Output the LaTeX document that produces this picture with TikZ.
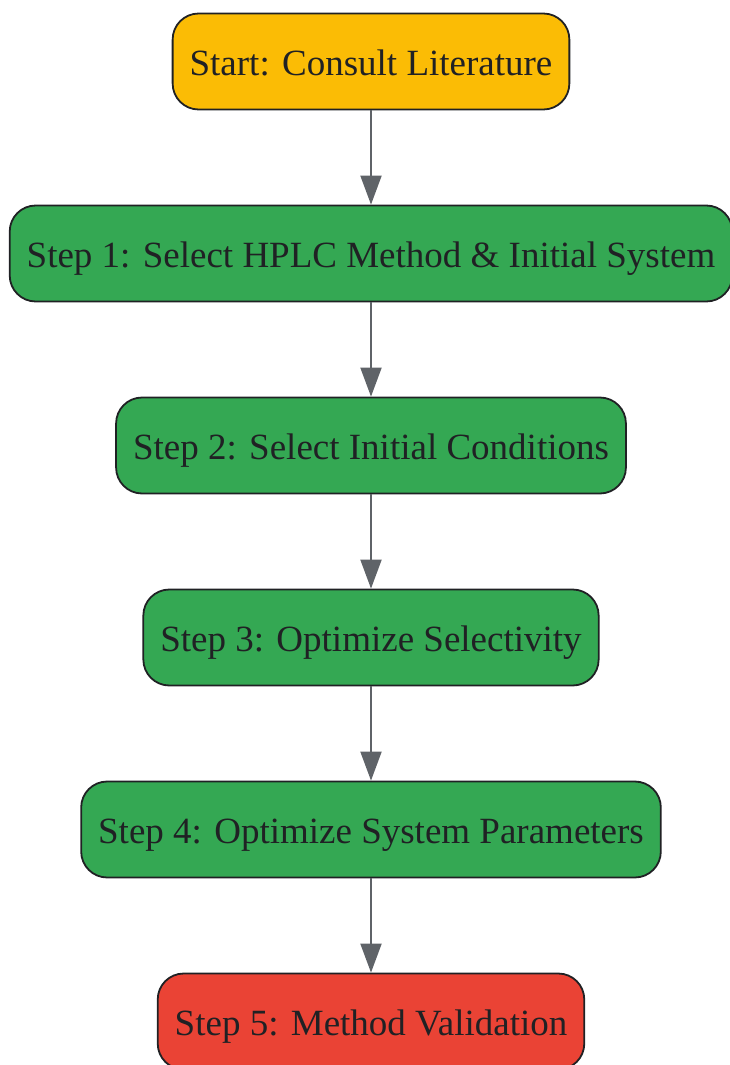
\documentclass[tikz,border=0pt]{standalone}
\usepackage{fontspec}
\setmainfont{Liberation Serif}
\usetikzlibrary{positioning,arrows.meta}
\definecolor{startyellow}{HTML}{FBBC05}
\definecolor{stepgreen}{HTML}{34A853}
\definecolor{endred}{HTML}{EA4335}
\definecolor{edgegray}{HTML}{5F6368}
\definecolor{textdark}{HTML}{202124}

\begin{document}
\begin{tikzpicture}[x=1pt,y=-1pt]
			\tikzstyle{box} = [rectangle, rounded corners=26pt, draw=textdark, line width=1.8pt, text=textdark, minimum height=96pt, inner xsep=17pt, text height=30pt, text depth=2pt, font=\fontsize{37}{44}\selectfont]
			\tikzstyle{start} = [box, fill=startyellow]
			\tikzstyle{stepbox} = [box, fill=stepgreen]
			\tikzstyle{finish} = [box, fill=endred]
			\tikzstyle{arrow} = [-{Triangle[length=29pt,width=21pt]}, draw=edgegray, line width=2pt]

			\useasboundingbox (0,0) rectangle (729,1065);

			\node [start] (lit) at (371,61.5) {Start: Consult Literature};

			\node [stepbox, below of=lit, node distance=192pt] (s1) {Step 1: Select HPLC Method \& Initial System};
			\draw [arrow] (lit) -- (s1);

			\node [stepbox, below of=s1, node distance=192pt] (s2) {Step 2: Select Initial Conditions};
			\draw [arrow] (s1) -- (s2);

			\node [stepbox, below of=s2, node distance=192pt] (s3) {Step 3: Optimize Selectivity};
			\draw [arrow] (s2) -- (s3);

			\node [stepbox, below of=s3, node distance=192pt] (s4) {Step 4: Optimize System Parameters};
			\draw [arrow] (s3) -- (s4);

			\node [finish, below of=s4, node distance=192pt] (s5) {Step 5: Method Validation};
			\draw [arrow] (s4) -- (s5);
		\end{tikzpicture}
\end{document}
